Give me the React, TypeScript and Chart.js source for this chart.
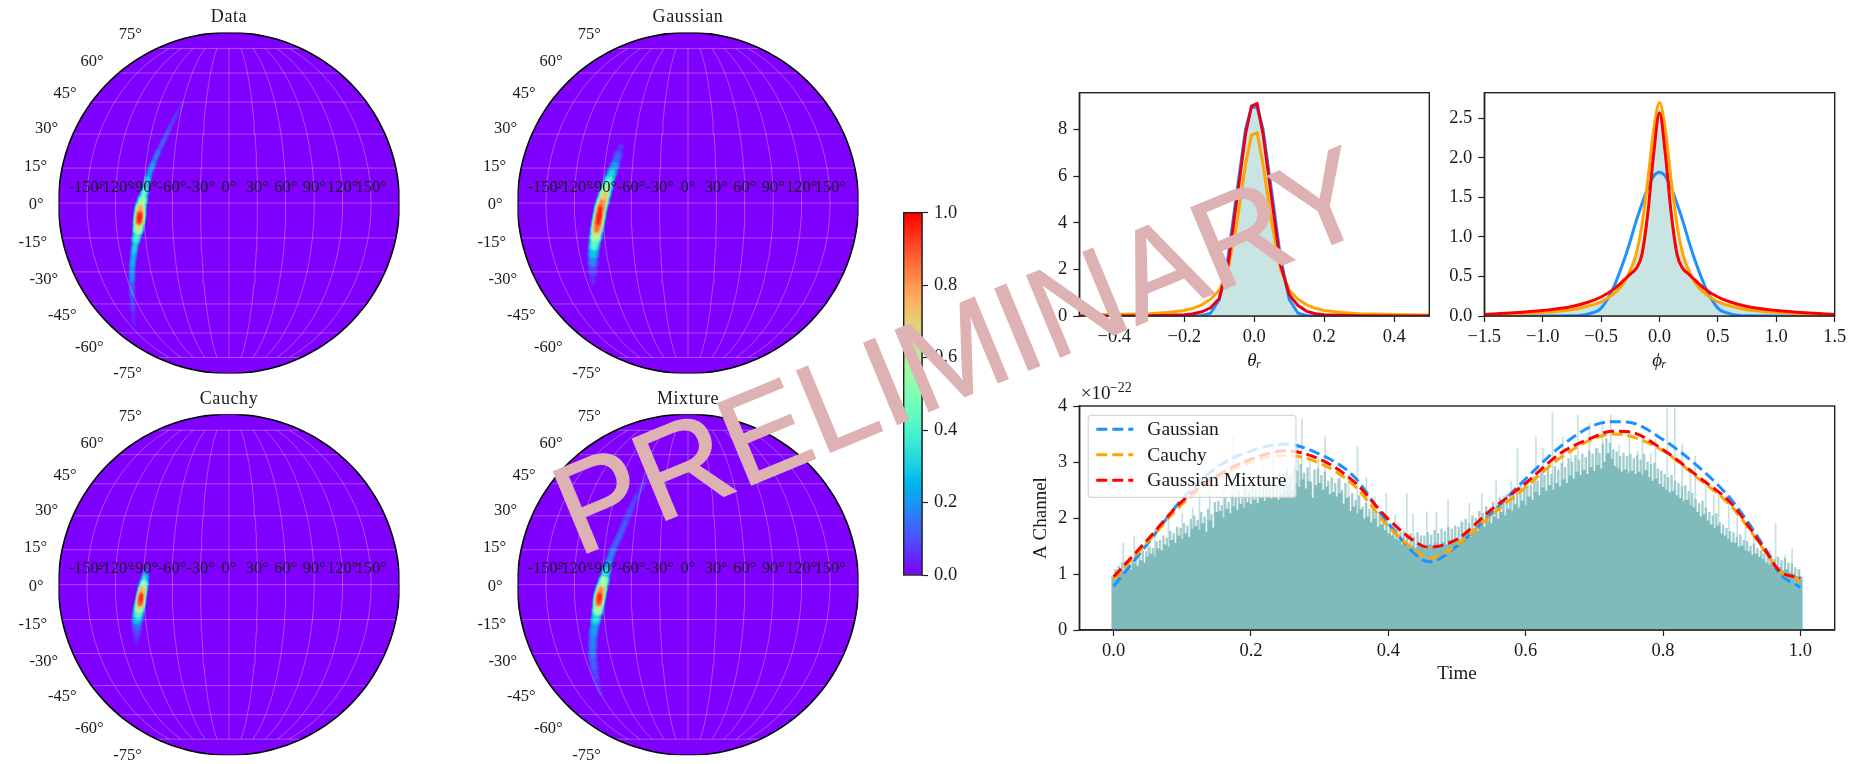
import React, { useEffect, useRef } from "react";
import { Chart, registerables } from "chart.js";

Chart.register(...registerables);

const SERIF = '"Liberation Serif", serif';
const INK = "#1a1a1a";
const BLUE = "#1E90FF";
const ORANGE = "#FFA500";
const RED = "#FF0000";
const FILL = "#C8E4E3";
const TEAL = "#80BBBB";

// ---- sky maps -----------------------------------------------------------
const RADIUS = 170.5;
const lonTicks = [-150, -120, -90, -60, -30, 0, 30, 60, 90, 120, 150];
const latTicks = [-75, -60, -45, -30, -15, 0, 15, 30, 45, 60, 75];
const meridianLats = [-75, -70, -65, -60, -55, -50, -45, -40, -35, -30, -25, -20, -15, -10, -5, 0, 5, 10, 15, 20, 25, 30, 35, 40, 45, 50, 55, 60, 65, 70, 75];
const heatLevels = [0.03, 0.06, 0.1, 0.15, 0.2, 0.25, 0.3, 0.35, 0.4, 0.45, 0.5, 0.55, 0.6, 0.65, 0.7, 0.75, 0.8, 0.85, 0.9, 0.95];

const dataRidgeX = [-46, -48, -53, -59, -65, -71, -76, -81, -84, -86.5, -88.5, -89, -89.5, -90, -91, -93, -95, -96.5, -97, -97, -96, -95];
const dataRidgeY = [100, 96, 88, 76, 63, 51, 39, 25, 13, 3, -5, -11, -15, -19, -27, -37, -49, -62, -77, -92, -107, -122];
const dataRidgeV = [0.03, 0.05, 0.07, 0.1, 0.14, 0.18, 0.24, 0.3, 0.42, 0.55, 0.75, 0.98, 1, 0.95, 0.6, 0.38, 0.3, 0.27, 0.22, 0.14, 0.08, 0.04];
const dataRidgeW = [3, 4, 4, 4, 4, 4.5, 5, 5.5, 6.5, 9, 11, 11, 11, 11, 10, 7, 5.5, 5.5, 5, 5, 5, 4];

const gaussRidgeX = [-67.3, -70, -73, -76, -78.7, -81, -83, -85.5, -87.3, -88.7, -90, -91.3, -92.5, -94, -94.7, -95.3, -95.3, -95.3];
const gaussRidgeY = [56.3, 48, 38, 30.5, 23, 16, 9.7, 1, -5.3, -13, -20, -27, -35, -43.7, -52, -60.3, -69, -79];
const gaussRidgeV = [0.04, 0.1, 0.2, 0.3, 0.42, 0.58, 0.7, 0.85, 0.96, 1, 0.97, 0.85, 0.6, 0.42, 0.28, 0.15, 0.08, 0.03];
const gaussRidgeW = [6, 9, 10, 10, 11, 11, 12, 12, 12, 12, 12, 12, 12, 11, 11, 10, 9, 7];

const cauchyRidgeX = [-81, -83, -84, -85, -86.3, -87.5, -88.3, -89, -90, -91, -92, -92.3, -92.3, -92.3];
const cauchyRidgeY = [18, 11.7, 7.7, 1.7, -4.3, -10.3, -15.3, -19.3, -24.3, -30.3, -36.3, -42.3, -49.3, -56];
const cauchyRidgeV = [0.05, 0.15, 0.3, 0.5, 0.75, 0.96, 1, 0.9, 0.62, 0.42, 0.25, 0.12, 0.06, 0.03];
const cauchyRidgeW = [4, 5, 6, 8, 9, 9, 9, 10, 11, 11, 11, 10, 9, 8];

const mixRidgeX = [-38, -45, -51.3, -58, -63, -69, -75, -79, -81.3, -84, -86.5, -88, -88.7, -89.3, -90.5, -92.5, -94.5, -95.3, -95.3, -94, -92, -88];
const mixRidgeY = [111.7, 99.7, 88, 73.7, 61.7, 47.7, 34.7, 22.7, 14.7, 4.7, -4.3, -10.3, -14.3, -18.3, -26.3, -36.3, -48.3, -60.3, -72.3, -83.3, -93.3, -108.3];
const mixRidgeV = [0.03, 0.05, 0.07, 0.09, 0.11, 0.13, 0.17, 0.22, 0.3, 0.55, 0.8, 0.98, 1, 0.92, 0.55, 0.32, 0.22, 0.18, 0.15, 0.1, 0.06, 0.03];
const mixRidgeW = [5, 6, 7, 7, 7, 7, 7, 7, 8, 10, 11, 11, 11, 11, 11, 9, 9, 9, 9, 9, 8, 7];

// ---- posterior panels ---------------------------------------------------
const thetaTicks = [-0.4, -0.2, 0, 0.2, 0.4];
const phiTicks = [-1.5, -1, -0.5, 0, 0.5, 1, 1.5];
const timeTicks = [0, 0.2, 0.4, 0.6, 0.8, 1];

const thetaX = [-0.5, -0.4, -0.3, -0.25, -0.2, -0.175, -0.15, -0.125, -0.1, -0.075, -0.05, -0.025, -0.008, 0.008, 0.025, 0.05, 0.075, 0.1, 0.125, 0.15, 0.175, 0.2, 0.25, 0.3, 0.4, 0.5];
const thetaHist = [0, 0, 0, 0, 0, 0, 0, 0.08, 0.6, 2.2, 5, 7.9, 8.9, 9, 7.9, 5, 2.2, 0.6, 0.08, 0, 0, 0, 0, 0, 0, 0];
const thetaGauss = [0, 0, 0, 0, 0, 0, 0.02, 0.12, 0.7, 2.5, 5.3, 8, 8.95, 8.95, 8, 5.3, 2.5, 0.7, 0.12, 0.02, 0, 0, 0, 0, 0, 0];
const thetaCauchy = [0.04, 0.06, 0.1, 0.15, 0.24, 0.33, 0.48, 0.72, 1.1, 2, 3.95, 6.5, 7.75, 7.85, 6.5, 3.95, 2, 1.1, 0.72, 0.48, 0.33, 0.24, 0.15, 0.1, 0.06, 0.04];
const thetaMix = [0, 0, 0.01, 0.03, 0.05, 0.1, 0.18, 0.35, 0.75, 2.2, 5, 7.8, 9, 9.1, 7.8, 5, 2.2, 0.9, 0.45, 0.2, 0.1, 0.05, 0.03, 0.01, 0, 0];

const phiX = [-1.5, -1.25, -1, -0.75, -0.6, -0.5, -0.4, -0.3, -0.25, -0.2, -0.15, -0.1, -0.05, 0, 0.05, 0.1, 0.15, 0.2, 0.25, 0.3, 0.4, 0.5, 0.6, 0.75, 1, 1.25, 1.5];
const phiHist = [0, 0.01, 0.03, 0.07, 0.13, 0.2, 0.3, 0.45, 0.57, 0.72, 0.98, 1.45, 2.1, 2.62, 2.1, 1.45, 0.98, 0.72, 0.57, 0.45, 0.3, 0.2, 0.13, 0.07, 0.03, 0.01, 0];
const phiGauss = [0, 0, 0, 0.002, 0.03, 0.1, 0.34, 0.72, 0.95, 1.2, 1.42, 1.62, 1.77, 1.82, 1.77, 1.62, 1.42, 1.2, 0.95, 0.72, 0.34, 0.1, 0.03, 0.002, 0, 0, 0];
const phiCauchy = [0.02, 0.03, 0.045, 0.08, 0.13, 0.18, 0.27, 0.43, 0.58, 0.78, 1.15, 1.72, 2.35, 2.7, 2.35, 1.72, 1.15, 0.78, 0.58, 0.43, 0.27, 0.18, 0.13, 0.08, 0.045, 0.03, 0.02];
const phiMix = [0.02, 0.04, 0.07, 0.12, 0.18, 0.24, 0.33, 0.46, 0.53, 0.6, 0.78, 1.3, 2.05, 2.57, 2.05, 1.3, 0.78, 0.6, 0.53, 0.46, 0.33, 0.24, 0.18, 0.12, 0.07, 0.04, 0.02];

// ---- A channel time series ---------------------------------------------
const timeKnots = [0, 0.05, 0.1, 0.15, 0.2, 0.25, 0.3, 0.35, 0.4, 0.45, 0.46, 0.5, 0.55, 0.6, 0.65, 0.7, 0.725, 0.75, 0.8, 0.85, 0.9, 0.95, 0.97, 1];
const timeGauss = [0.78, 1.55, 2.34, 2.9, 3.2, 3.32, 3.14, 2.74, 1.9, 1.25, 1.22, 1.5, 2.08, 2.7, 3.27, 3.66, 3.72, 3.71, 3.4, 2.93, 2.32, 1.43, 1.01, 0.76];
const timeCauchy = [0.9, 1.58, 2.25, 2.7, 3, 3.12, 2.98, 2.58, 1.85, 1.33, 1.28, 1.52, 2.05, 2.55, 3.07, 3.42, 3.5, 3.47, 3.2, 2.72, 2.2, 1.38, 1.05, 0.88];
const timeMix = [0.95, 1.62, 2.3, 2.75, 3.05, 3.2, 3.05, 2.65, 1.98, 1.5, 1.48, 1.62, 2.15, 2.62, 3.15, 3.45, 3.55, 3.54, 3.22, 2.75, 2.25, 1.4, 1.05, 0.93];

const bodyValues = [
  0.95, 0.98, 1.05, 1.02, 1.12, 1.08, 1.18, 1.14, 1.24, 1.2, 1.3,
  1.36, 1.3, 1.45, 1.42, 1.52, 1.48, 1.6, 1.55, 1.68, 1.62,
  1.72, 1.66, 1.8, 1.85, 1.78, 1.9, 1.75, 1.95, 1.82, 2.1,
  2.12, 2, 2.16, 2.08, 2.2, 2.14, 2.25, 2.18, 2.28, 2.24,
  2.32, 2.26, 2.36, 2.3, 2.4, 2.34, 2.38, 2.32, 2.42, 2.5,
  2.6, 2.5, 2.62, 2.55, 2.68, 2.52, 2.65, 2.35, 2.58, 2.62,
  2.5, 2.55, 2.42, 2.46, 2.38, 2.44, 2.25, 2.35, 2.12, 2.2,
  2.08, 2.15, 1.98, 2.02, 1.92, 1.98, 1.84, 1.88, 1.78, 1.72,
  1.68, 1.62, 1.6, 1.52, 1.56, 1.48, 1.5, 1.46, 1.5, 1.48,
  1.44, 1.52, 1.46, 1.54, 1.5, 1.56, 1.52, 1.6, 1.56, 1.62,
  1.6, 1.68, 1.72, 1.66, 1.8, 1.76, 1.88, 1.84, 1.95, 1.9,
  2.02, 1.98, 2.1, 2.04, 2.16, 2.12, 2.24, 2.18, 2.3, 2.22,
  2.38, 2.32, 2.46, 2.4, 2.54, 2.48, 2.58, 2.5, 2.62, 2.56,
  2.68, 2.62, 2.75, 2.7, 2.82, 2.76, 2.85, 2.78, 2.9, 2.84,
  2.94, 2.88, 3, 3.15, 3.05, 2.92, 2.88, 2.82, 2.86, 2.8,
  2.84, 2.78, 2.82, 2.76, 2.85, 2.72, 2.66, 2.7, 2.6, 2.55,
  2.5, 2.45, 2.48, 2.4, 2.35, 2.3, 2.32, 2.22, 2.18, 2.1,
  2.02, 2.06, 1.95, 1.88, 1.82, 1.86, 1.72, 1.68, 1.62, 1.56,
  1.55, 1.48, 1.5, 1.42, 1.4, 1.34, 1.36, 1.3, 1.26, 1.2,
  1.16, 1.18, 1.1, 1.12, 1.06, 1.08, 1.02, 1, 0.96, 0.94,
];

// fuzz directly above the solid body, one thin bar between every two body bars
const hazeValues = [
  1.08, 1.14, 1.2, 1.22, 1.28, 1.24, 1.34, 1.3, 1.42, 1.4,
  1.48, 1.46, 1.58, 1.6, 1.68, 1.64, 1.76, 1.72, 1.84, 1.82,
  1.9, 1.86, 1.98, 2.04, 1.96, 2.1, 2.02, 2.16, 2.06, 2.28,
  2.3, 2.22, 2.36, 2.28, 2.44, 2.36, 2.48, 2.4, 2.56, 2.48,
  2.6, 2.52, 2.66, 2.58, 2.7, 2.6, 2.68, 2.6, 2.74, 2.8,
  2.88, 2.78, 2.92, 2.84, 2.96, 2.8, 2.9, 2.62, 2.86, 2.88,
  2.76, 2.82, 2.66, 2.72, 2.62, 2.7, 2.5, 2.62, 2.38, 2.44,
  2.32, 2.4, 2.2, 2.26, 2.16, 2.2, 2.06, 2.1, 2, 1.94,
  1.9, 1.86, 1.8, 1.74, 1.76, 1.7, 1.72, 1.66, 1.74, 1.68,
  1.68, 1.74, 1.7, 1.78, 1.72, 1.8, 1.76, 1.84, 1.8, 1.86,
  1.84, 1.92, 1.98, 1.9, 2.04, 2, 2.12, 2.08, 2.2, 2.14,
  2.28, 2.2, 2.36, 2.3, 2.42, 2.36, 2.5, 2.44, 2.58, 2.5,
  2.66, 2.58, 2.74, 2.66, 2.84, 2.76, 2.88, 2.78, 2.92, 2.86,
  2.98, 2.9, 3.06, 3, 3.12, 3.04, 3.14, 3.08, 3.2, 3.14,
  3.24, 3.16, 3.32, 3.42, 3.34, 3.22, 3.18, 3.1, 3.16, 3.1,
  3.14, 3.06, 3.12, 3.04, 3.14, 3, 2.96, 2.98, 2.88, 2.84,
  2.78, 2.72, 2.76, 2.66, 2.62, 2.56, 2.58, 2.48, 2.44, 2.34,
  2.26, 2.3, 2.18, 2.1, 2.04, 2.08, 1.92, 1.88, 1.82, 1.76,
  1.74, 1.66, 1.7, 1.6, 1.58, 1.5, 1.54, 1.46, 1.42, 1.36,
  1.32, 1.34, 1.26, 1.3, 1.24, 1.28, 1.2, 1.18, 1.12, 1.08,
];

const spikeTimes = [
  0.014, 0.03, 0.05, 0.06, 0.08, 0.1, 0.115, 0.125, 0.14, 0.16, 0.174, 0.178, 0.19, 0.218, 0.232, 0.252, 0.269, 0.274, 0.286, 0.298,
  0.308, 0.33, 0.342, 0.355, 0.368, 0.38, 0.397, 0.41, 0.427, 0.436, 0.456, 0.47, 0.487, 0.506, 0.518, 0.536, 0.548, 0.557, 0.568, 0.579,
  0.588, 0.6, 0.615, 0.625, 0.639, 0.654, 0.666, 0.676, 0.693, 0.705, 0.712, 0.724, 0.736, 0.751, 0.763, 0.77, 0.782, 0.789, 0.806, 0.817,
  0.828, 0.84, 0.847, 0.862, 0.874, 0.881, 0.896, 0.908, 0.92, 0.932, 0.944, 0.956, 0.964, 0.978, 0.988, 0.999,
];
const spikeValues = [
  1.55, 1.68, 1.62, 1.8, 1.95, 2.08, 2.18, 2.45, 2.55, 2.75, 3.45, 2.72, 2.85, 3.03, 3.39, 2.9, 3.33, 3.76, 3.05, 3.1,
  3.45, 2.9, 2.78, 3.27, 2.72, 2.38, 2.44, 2.05, 2.44, 2.08, 2.11, 2.1, 2.33, 1.95, 2.26, 2.43, 2.2, 2.67, 2.4, 2.65,
  3.24, 2.65, 3.45, 3.24, 3.88, 3.45, 3.2, 3.84, 3.69, 3.25, 3.7, 3.84, 3.3, 3.57, 3.2, 3.5, 3.15, 3.4, 3.96, 3.96,
  3.33, 2.8, 3.1, 2.68, 2.4, 2.5, 2.26, 2, 1.85, 1.7, 1.55, 1.42, 1.9, 1.34, 1.46, 1.07,
];

const legendLabels = ["Gaussian", "Cauchy", "Gaussian Mixture"];

// ---- helpers ------------------------------------------------------------
const rainbow = (t: number) => {
  const r = Math.min(1, Math.abs(2 * t - 0.5));
  const g = Math.sin(Math.PI * t);
  const b = Math.cos((Math.PI * t) / 2);
  return `rgb(${Math.round(r * 255)},${Math.round(g * 255)},${Math.round(b * 255)})`;
};

const mollweide = (lon: number, lat: number) => {
  const phi = (lat * Math.PI) / 180;
  let th = phi;
  for (let i = 0; i < 30; i++) {
    th -= (2 * th + Math.sin(2 * th) - Math.PI * Math.sin(phi)) / (2 + 2 * Math.cos(2 * th));
  }
  return { x: (RADIUS * lon * Math.cos(th)) / 180, y: RADIUS * Math.sin(th) };
};

const xy = (xs: number[], ys: number[]) => xs.map((x, i) => ({ x, y: ys[i] }));

const spines = {
  id: "spines",
  afterDatasetsDraw(chart: any) {
    const { ctx, chartArea: a } = chart;
    ctx.save();
    ctx.strokeStyle = "#222";
    ctx.lineWidth = 1.4;
    ctx.strokeRect(a.left, a.top, a.right - a.left, a.bottom - a.top);
    ctx.restore();
  },
};

const heatBlur = {
  id: "heatBlur",
  beforeDatasetDraw(chart: any, args: any) {
    if (args.meta._dataset?.isHeat) {
      chart.ctx.save();
      chart.ctx.filter = "blur(1.1px)";
    }
  },
  afterDatasetDraw(chart: any, args: any) {
    if (args.meta._dataset?.isHeat) chart.ctx.restore();
  },
};

function skyChart(canvas: HTMLCanvasElement, title: string, rx: number[], ry: number[], rv: number[], rw: number[], pad: any) {
  const outline: { x: number; y: number }[] = [];
  for (let a = 0; a <= 360; a += 2) outline.push({ x: RADIUS * Math.cos((a * Math.PI) / 180), y: RADIUS * Math.sin((a * Math.PI) / 180) });

  const datasets: any[] = [];
  datasets.push({ data: outline, showLine: true, fill: "shape", backgroundColor: "#8000FF", borderWidth: 0, pointRadius: 0, tension: 0, order: 5 });
  heatLevels.forEach((lev) => {
    datasets.push({
      isHeat: true,
      data: rx.map((x, i) => ({ x, y: rv[i] >= lev ? ry[i] : null })),
      showLine: true,
      fill: false,
      borderColor: rainbow(lev + 0.03),
      borderCapStyle: "round",
      pointRadius: 0,
      tension: 0.3,
      borderWidth: 2,
      order: 3 - lev,
      segment: {
        borderWidth: (c: any) => {
          const i = c.p0DataIndex;
          const j = c.p1DataIndex;
          const v = (rv[i] + rv[j]) / 2;
          const w = (rw[i] + rw[j]) / 2;
          return Math.max(0.8, w * Math.sqrt(Math.max(0, 1 - lev / v)));
        },
      },
    });
  });
  latTicks.forEach((lat) => {
    const e = mollweide(180, lat);
    datasets.push({ data: [{ x: -e.x, y: e.y }, { x: e.x, y: e.y }], showLine: true, borderColor: "rgba(255,255,255,0.3)", borderWidth: 1, pointRadius: 0, order: 1.5 });
  });
  lonTicks.forEach((lon) => {
    datasets.push({ data: meridianLats.map((lat) => mollweide(lon, lat)), showLine: true, borderColor: "rgba(255,255,255,0.3)", borderWidth: 1, pointRadius: 0, tension: 0, order: 1.5 });
  });
  datasets.push({ data: outline, showLine: true, borderColor: "#000", borderWidth: 1.6, pointRadius: 0, tension: 0, order: 1 });

  const labels = {
    id: "skyLabels",
    afterDatasetsDraw(chart: any) {
      const { ctx, scales } = chart;
      const px = (v: number) => scales.x.getPixelForValue(v);
      const py = (v: number) => scales.y.getPixelForValue(v);
      ctx.save();
      ctx.fillStyle = INK;
      ctx.textBaseline = "middle";
      ctx.font = `16.5px ${SERIF}`;
      ctx.textAlign = "center";
      lonTicks.forEach((lon) => ctx.fillText(`${lon}°`, px((RADIUS * lon) / 180), py(0) - 15.7));
      ctx.textAlign = "right";
      latTicks.forEach((lat) => {
        const e = mollweide(180, lat);
        ctx.fillText(`${lat}°`, px(-e.x) - 15, py(e.y * 1.098) + 1.5);
      });
      ctx.textAlign = "center";
      ctx.font = `18px ${SERIF}`;
      ctx.letterSpacing = "0.6px";
      ctx.fillText(title, px(0), py(0) - 185.3);
      ctx.restore();
    },
  };

  return new Chart(canvas, {
    type: "scatter",
    data: { datasets },
    plugins: [heatBlur, labels],
    options: {
      animation: false,
      responsive: false,
      layout: { padding: pad },
      plugins: { legend: { display: false }, tooltip: { enabled: false } },
      scales: {
        x: { type: "linear", min: -RADIUS, max: RADIUS, display: false },
        y: { type: "linear", min: -RADIUS, max: RADIUS, display: false },
      },
    },
  } as any);
}

const tickFont = { family: SERIF, size: 18.5 };
const fmt = (d: number) => (v: any) => Number(v).toFixed(d).replace("-", "\u2212");

function axes(o: any) {
  const common = {
    type: "linear",
    offset: false,
    grid: { offset: false, drawOnChartArea: false, drawTicks: true, tickLength: 6, tickColor: "#222", tickWidth: 1.2 },
    border: { color: "#222", width: 1.4 },
  };
  return {
    x: {
      ...common,
      min: o.xmin,
      max: o.xmax,
      afterFit: (s: any) => { s.height = o.xh; },
      afterBuildTicks: (s: any) => { s.ticks = o.xticks.map((value: number) => ({ value })); },
      title: { display: true, text: o.xtitle, font: { family: SERIF, size: 19, style: o.xstyle || "normal" }, color: INK, padding: { top: 0, bottom: o.xtb } },
      ticks: { autoSkip: false, maxRotation: 0, font: tickFont, color: INK, padding: 4, callback: fmt(1) },
    },
    y: {
      ...common,
      min: 0,
      max: o.ymax,
      afterFit: (s: any) => { s.width = o.yw; },
      title: o.ytitle
        ? { display: true, text: o.ytitle, font: { family: SERIF, size: 19 }, color: INK, padding: { top: 9.3, bottom: 0 } }
        : { display: false },
      ticks: { stepSize: o.ystep, includeBounds: false, font: tickFont, color: INK, padding: 6, callback: fmt(o.yd) },
    },
  };
}

function density(canvas: HTMLCanvasElement, xs: number[], hist: number[], g: number[], c: number[], m: number[], tension: number, opt: any) {
  const line = (label: string, ys: number[], color: string, order: number) => ({
    label,
    data: xy(xs, ys),
    showLine: true,
    borderColor: color,
    borderWidth: 3,
    pointRadius: 0,
    tension,
    cubicInterpolationMode: tension ? "monotone" : "default",
    order,
  });
  return new Chart(canvas, {
    type: "scatter",
    data: {
      datasets: [
        { label: "Data", data: xy(xs, hist), showLine: true, fill: "origin", backgroundColor: FILL, borderWidth: 0, pointRadius: 0, tension, cubicInterpolationMode: tension ? "monotone" : "default", order: 4 },
        line("Gaussian", g, BLUE, 3),
        line("Cauchy", c, ORANGE, 2),
        line("Gaussian Mixture", m, tension ? RED : "#E8001A", 1),
      ],
    },
    plugins: [spines],
    options: {
      animation: false,
      responsive: false,
      layout: { padding: opt.pad },
      plugins: { legend: { display: false }, tooltip: { enabled: false } },
      scales: axes(opt),
    },
  } as any);
}

function timeChart(canvas: HTMLCanvasElement) {
  const DASH = [11, 5];
  const dashed = (label: string, ys: number[], color: string, order: number) => ({
    label,
    data: xy(timeKnots, ys),
    showLine: true,
    borderColor: color,
    borderWidth: 3,
    borderDash: DASH,
    pointRadius: 0,
    cubicInterpolationMode: "monotone",
    order,
  });
  const legend = {
    id: "frameLegend",
    afterDatasetsDraw(chart: any) {
      const { ctx, chartArea: a } = chart;
      const left = a.left + 9;
      const top = a.top + 9.3;
      ctx.save();
      ctx.beginPath();
      ctx.roundRect(left, top, 207.7, 82, 3);
      ctx.fillStyle = "rgba(255,255,255,0.8)";
      ctx.fill();
      ctx.strokeStyle = "rgba(204,204,204,0.8)";
      ctx.lineWidth = 1.2;
      ctx.stroke();
      const colors = [BLUE, ORANGE, RED];
      legendLabels.forEach((t, i) => {
        const y = top + 14 + i * 25.5;
        ctx.beginPath();
        ctx.setLineDash(DASH);
        ctx.strokeStyle = colors[i];
        ctx.lineWidth = 3;
        ctx.moveTo(left + 8, y);
        ctx.lineTo(left + 45, y);
        ctx.stroke();
        ctx.setLineDash([]);
        ctx.fillStyle = INK;
        ctx.font = `19.5px ${SERIF}`;
        ctx.textBaseline = "middle";
        ctx.fillText(t, left + 59, y + 1);
      });
      ctx.fillStyle = INK;
      ctx.font = `19px ${SERIF}`;
      ctx.textBaseline = "alphabetic";
      ctx.fillText("\u00d710", a.left + 1.5, a.top - 7);
      ctx.font = `14px ${SERIF}`;
      ctx.fillText("\u221222", a.left + 30.5, a.top - 14);
      ctx.restore();
    },
  };
  return new Chart(canvas, {
    type: "scatter",
    data: {
      datasets: [
        { type: "bar", label: "A Channel", data: xy(bodyValues.map((_, i) => i / (bodyValues.length - 1)), bodyValues), backgroundColor: TEAL, barThickness: 3.7, grouped: false, order: 4 },
        { type: "bar", label: "fuzz", data: xy(hazeValues.map((_, i) => (i + 0.5) / hazeValues.length), hazeValues), backgroundColor: "rgba(128,187,187,0.72)", barThickness: 1.7, grouped: false, order: 4.5 },
        { type: "bar", label: "spikes", data: xy(spikeTimes, spikeValues), backgroundColor: "rgba(128,187,187,0.45)", barThickness: 1, grouped: false, order: 5 },
        dashed("Gaussian", timeGauss, BLUE, 3),
        dashed("Cauchy", timeCauchy, ORANGE, 2),
        dashed("Gaussian Mixture", timeMix, RED, 1),
      ],
    },
    plugins: [legend, spines],
    options: {
      animation: false,
      responsive: false,
      layout: { padding: { left: 0, right: 44.3, top: 36, bottom: 0 } },
      plugins: { legend: { display: false }, tooltip: { enabled: false } },
      scales: axes({ xmin: -0.05, xmax: 1.05, xticks: timeTicks, xh: 70, xtitle: "Time", xtb: 15, ymax: 4, ystep: 1, yd: 0, yw: 59.3, ytitle: "A Channel" }),
    },
  } as any);
}

function colorbar(canvas: HTMLCanvasElement) {
  return new Chart(canvas, {
    type: "bar",
    data: {
      labels: ["scale"],
      datasets: [
        {
          data: [[0, 1]],
          barPercentage: 1,
          categoryPercentage: 1,
          backgroundColor: (c: any) => {
            const a = c.chart.chartArea;
            if (!a) return "#8000FF";
            const g = c.chart.ctx.createLinearGradient(0, a.bottom, 0, a.top);
            for (let i = 0; i <= 20; i++) g.addColorStop(i / 20, rainbow(i / 20));
            return g;
          },
        },
      ],
    },
    plugins: [spines],
    options: {
      animation: false,
      responsive: false,
      layout: { padding: { left: 13.7, right: 0, top: 32.7, bottom: 35 } },
      plugins: { legend: { display: false }, tooltip: { enabled: false } },
      scales: {
        x: { display: false },
        y: {
          position: "right",
          min: 0,
          max: 1,
          afterFit: (s: any) => { s.width = 58; },
          grid: { drawOnChartArea: false, tickLength: 6, tickColor: "#222", tickWidth: 1.2 },
          border: { color: "#222", width: 1.4 },
          ticks: { stepSize: 0.2, font: tickFont, color: INK, padding: 6, callback: fmt(1) },
        },
      },
    },
  } as any);
}

const canvases = [
  { key: "data", left: 0, top: 0, w: 450, h: 385 },
  { key: "gauss", left: 460, top: 0, w: 450, h: 385 },
  { key: "cauchy", left: 0, top: 382, w: 450, h: 382 },
  { key: "mix", left: 460, top: 382, w: 450, h: 382 },
  { key: "bar", left: 890, top: 180, w: 90, h: 430 },
  { key: "theta", left: 1010, top: 60, w: 450, h: 320 },
  { key: "phi", left: 1415, top: 60, w: 464, h: 320 },
  { key: "time", left: 1020, top: 370, w: 859, h: 330 },
];

export default function App() {
  const refs = useRef<Record<string, HTMLCanvasElement | null>>({});
  useEffect(() => {
    document.body.style.margin = "0";
    const r = refs.current as any;
    const skyPad = (cx: number, cy: number, c: any) => ({
      left: cx - c.left - RADIUS,
      right: c.left + c.w - cx - RADIUS,
      top: cy - c.top - RADIUS,
      bottom: c.top + c.h - cy - RADIUS,
    });
    const c = (k: string) => canvases.find((q) => q.key === k);
    const charts = [
      skyChart(r.data, "Data", dataRidgeX, dataRidgeY, dataRidgeV, dataRidgeW, skyPad(229, 203, c("data"))),
      skyChart(r.gauss, "Gaussian", gaussRidgeX, gaussRidgeY, gaussRidgeV, gaussRidgeW, skyPad(688, 203, c("gauss"))),
      skyChart(r.cauchy, "Cauchy", cauchyRidgeX, cauchyRidgeY, cauchyRidgeV, cauchyRidgeW, skyPad(229, 584.7, c("cauchy"))),
      skyChart(r.mix, "Mixture", mixRidgeX, mixRidgeY, mixRidgeV, mixRidgeW, skyPad(688, 584.7, c("mix"))),
      colorbar(r.bar),
      density(r.theta, thetaX, thetaHist, thetaGauss, thetaCauchy, thetaMix, 0, {
        pad: { left: 0, right: 30.7, top: 32.7, bottom: 0 }, xmin: -0.5, xmax: 0.5, xticks: thetaTicks, xh: 64, xtitle: "\u03b8\u1d63", xstyle: "italic", xtb: 8, ymax: 9.57, ystep: 2, yd: 0, yw: 69.3,
      }),
      density(r.phi, phiX, phiHist, phiGauss, phiCauchy, phiMix, 0.4, {
        pad: { left: 0, right: 44.3, top: 32.7, bottom: 0 }, xmin: -1.5, xmax: 1.5, xticks: phiTicks, xh: 64, xtitle: "\u03d5\u1d63", xstyle: "italic", xtb: 8, ymax: 2.825, ystep: 0.5, yd: 1, yw: 69.3,
      }),
      timeChart(r.time),
    ];
    return () => charts.forEach((ch) => ch.destroy());
  }, []);
  return (
    <div style={{ position: "absolute", left: 0, top: 0, width: 1849, height: 764, overflow: "hidden", background: "#fff", filter: "blur(0.55px)" }}>
      {canvases.map((q) => (
        <canvas
          key={q.key}
          ref={(el) => { refs.current[q.key] = el; }}
          width={q.w}
          height={q.h}
          style={{ position: "absolute", left: q.left, top: q.top, width: q.w, height: q.h }}
        />
      ))}
      <svg width={1849} height={764} style={{ position: "absolute", left: 0, top: 0, pointerEvents: "none" }}>
        <text x={577.5} y={557} transform="rotate(-22.5 577.5 557)" fontFamily='"Liberation Sans", sans-serif' fontSize={128} fill="#DEB2B2" stroke="#DEB2B2" strokeWidth={1.2}>
          PRELIMINARY
        </text>
      </svg>
    </div>
  );
}
